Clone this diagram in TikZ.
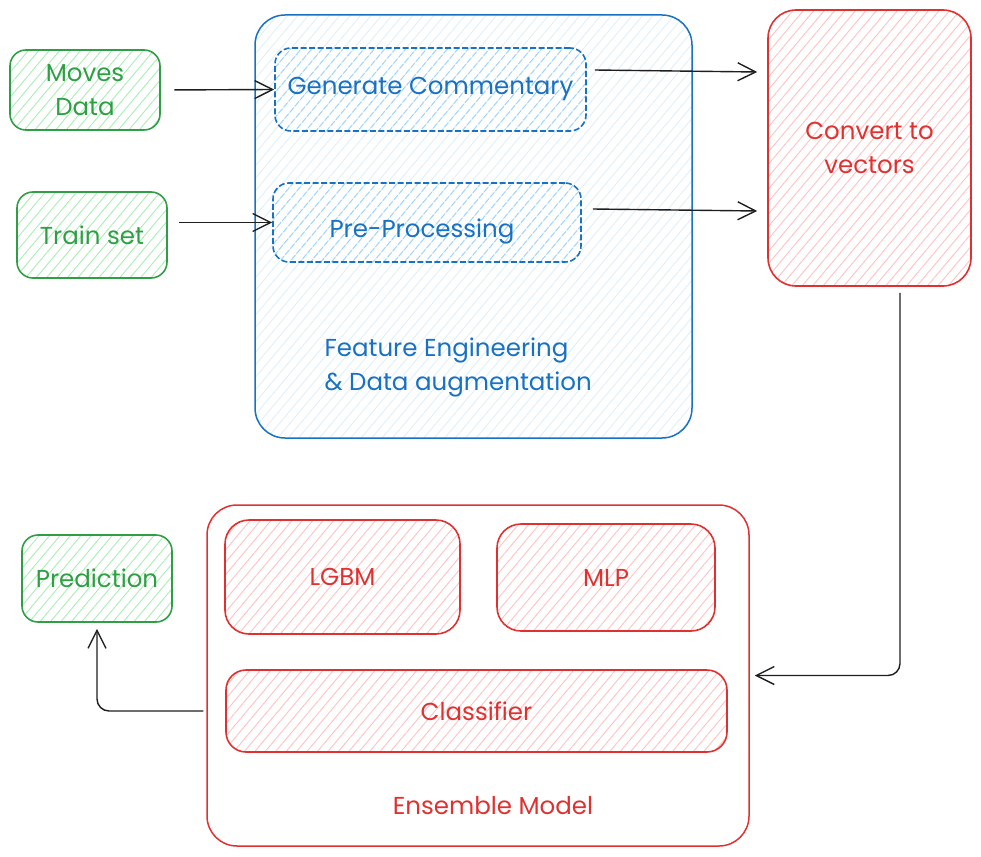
\documentclass[tikz,border=0pt]{standalone}
\usepackage{fontspec}
\setmainfont{Poppins}
\usetikzlibrary{arrows.meta,patterns.meta}
\definecolor{gstroke}{HTML}{2F9E44}
\definecolor{gfill}{HTML}{A9EDB4}
\definecolor{bstroke}{HTML}{1971C2}
\definecolor{bfill}{HTML}{9FD3FB}
\definecolor{bfilltwo}{HTML}{DCEEFB}
\definecolor{rstroke}{HTML}{E03131}
\definecolor{rfill}{HTML}{FFC2C2}
\definecolor{ink}{HTML}{1E1E1E}
\begin{document}
\begin{tikzpicture}[x=1pt,y=-1pt,
  txt/.style={font=\fontsize{24.5}{34}\selectfont},
  box/.style={draw, rounded corners=16pt, line width=1.6pt, align=center, inner sep=0pt, txt},
  hatch/.style={pattern={Lines[angle=50,distance=8pt,line width=0.9pt]}},
  gbox/.style={box, draw=gstroke, text=gstroke, hatch, pattern color=gfill},
  bbox/.style={box, draw=bstroke, text=bstroke, hatch, pattern color=bfill, dash pattern=on 6pt off 2.5pt},
  rbox/.style={box, draw=rstroke, text=rstroke, hatch, pattern color=rfill},
  arr/.style={draw=ink, line width=1.4pt, -{Straight Barb[length=18pt,width=18pt,line width=1.4pt]}}
]
\useasboundingbox (0,0) rectangle (981,856);

% feature engineering container
\node[draw=bstroke, line width=1.5pt, rounded corners=30pt,
      preaction={fill=white},
      pattern={Lines[angle=50,distance=8pt,line width=0.8pt]}, pattern color=bfilltwo,
      minimum width=437pt, minimum height=423pt, inner sep=0pt] (feat) at (473.5,226.5) {};
\node[txt, text=bstroke, align=left, anchor=west] (feattxt) at (321,367) {Feature Engineering\\\& Data augmentation};

% ensemble container
\node[draw=rstroke, line width=1.5pt, rounded corners=30pt,
      minimum width=542pt, minimum height=341pt, inner sep=0pt] (ens) at (478,675.5) {};
\node[txt, text=rstroke] (enstxt) at (493,806) {Ensemble Model};

% green boxes
\node[gbox, minimum width=150pt, minimum height=80pt] (moves) at (85,90) {Moves\\Data};
\node[gbox, minimum width=150pt, minimum height=86pt] (train) at (92,235) {Train set};
\node[gbox, minimum width=150pt, minimum height=87pt] (pred) at (97,578.5) {Prediction};

% blue boxes
\node[bbox, minimum width=311pt, minimum height=83pt] (gen) at (430.5,89.5) {Generate Commentary};
\node[bbox, minimum width=308pt, minimum height=79pt] (pre) at (427,222.5) {};
\node[txt, text=bstroke] (pretxt) at ([shift={(-5,9)}]pre.center) {Pre-Processing};

% red boxes
\node[rbox, rounded corners=28pt, minimum width=203pt, minimum height=276pt] (conv) at (869.5,148) {Convert to\\vectors};
\node[rbox, rounded corners=24pt, minimum width=235pt, minimum height=114pt] (lgbm) at (342.5,577) {LGBM};
\node[rbox, rounded corners=24pt, minimum width=218pt, minimum height=107pt] (mlp) at (606,577.5) {MLP};
\node[rbox, rounded corners=20pt, minimum width=501pt, minimum height=82pt] (cls) at (476.5,711) {Classifier};

% connectors
\draw[arr, shorten <=14pt] (moves.east) -- (gen.west);
\draw[arr, shorten <=11pt] (train.east |- pre.west) -- (pre.west);
\draw[arr] ([shift={(8,-19.5)}]gen.east) -- ([shift={(-10,-76)}]conv.west);
\draw[arr] ([shift={(11,-13.5)}]pre.east) -- ([shift={(-10,63)}]conv.west);
\coordinate (c1) at ([shift={(30.5,6)}]conv.south);
\coordinate (c2) at ([shift={(5,0)}]ens.east);
\draw[arr, rounded corners=12pt] (c1) |- (c2);
\coordinate (c3) at ([shift={(-3,0)}]ens.west |- cls.west);
\coordinate (c4) at ([shift={(0,6)}]pred.south);
\draw[arr, rounded corners=12pt] (c3) -| (c4);
\end{tikzpicture}
\end{document}
